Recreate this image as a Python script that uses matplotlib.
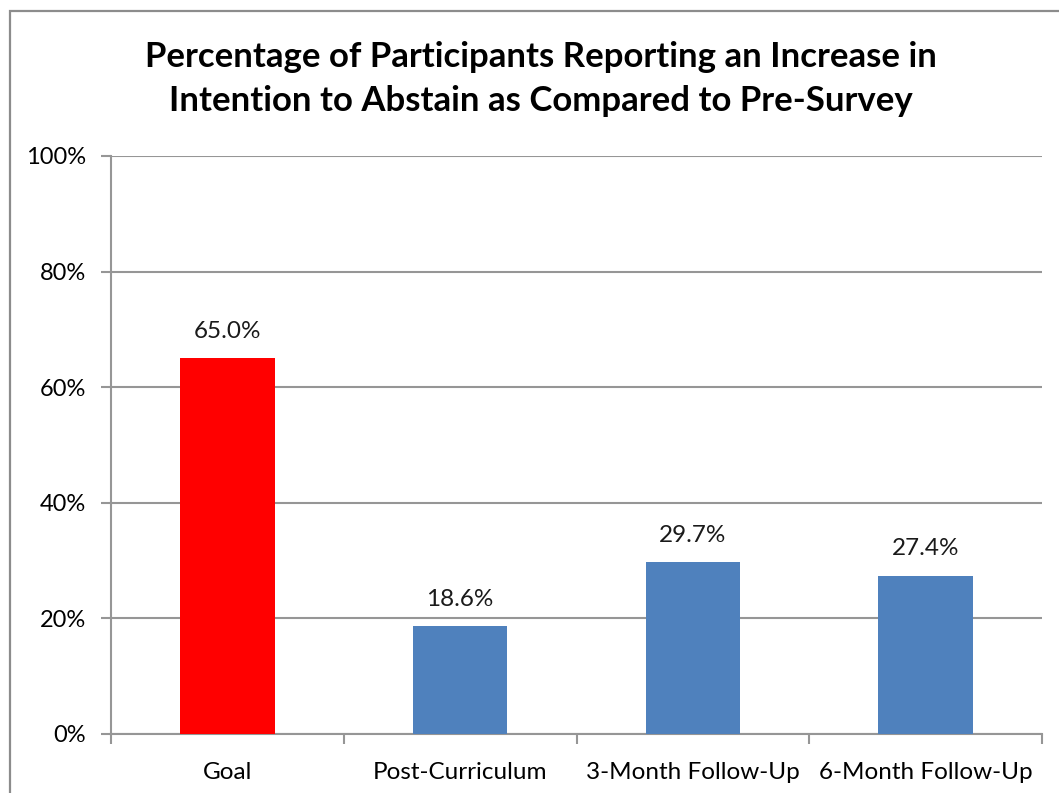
import matplotlib.pyplot as plt
from matplotlib.patches import Rectangle
from matplotlib.ticker import FixedLocator, PercentFormatter

categories = ['Goal', 'Post-Curriculum', '3-Month Follow-Up', '6-Month Follow-Up']
values = [65.0, 18.6, 29.7, 27.4]
colors = ['#FF0000', '#4F81BD', '#4F81BD', '#4F81BD']
title = ('Percentage of Participants Reporting an Increase in\n'
         'Intention to Abstain as Compared to Pre-Survey')

plt.rcParams['font.family'] = ['Lato', 'DejaVu Sans']
grey = '#969696'

fig = plt.figure(figsize=(10.59, 7.93), dpi=100)

# outer chart border (partly cut off on right/bottom)
fig.patches.append(Rectangle((10 / 1059, -0.1), 1.2, 1 - 11 / 793 + 0.1,
                             transform=fig.transFigure, fill=False,
                             edgecolor='#8c8c8c', linewidth=1.6))

ax = fig.add_axes([111 / 1059, 1 - 734 / 793, 931 / 1059, 578 / 793])

x = range(len(categories))
ax.bar(x, values, width=0.405, color=colors, zorder=3)
for i, v in enumerate(values):
    ax.text(i, v + 4.7, f'{v:.1f}%', ha='center', va='center', fontsize=17.5, color='#1a1a1a')

ax.set_xlim(-0.5, len(categories) - 0.5)
ax.set_ylim(0, 100)
ax.set_yticks(range(0, 101, 20))
ax.yaxis.set_major_formatter(PercentFormatter(decimals=0))
ax.grid(axis='y', color=grey, linewidth=1.5, zorder=0)

ax.set_xticks(list(x))
ax.set_xticklabels(categories)
ax.xaxis.set_minor_locator(FixedLocator([i - 0.5 for i in range(len(categories) + 1)]))
ax.tick_params(axis='x', which='major', length=0, pad=20, labelsize=17.5)
ax.tick_params(axis='x', which='minor', length=7, width=1.5, color=grey)
ax.tick_params(axis='y', length=7, width=1.5, color=grey, pad=11, labelsize=17)

for s in ['top', 'right']:
    ax.spines[s].set_visible(False)
for s in ['left', 'bottom']:
    ax.spines[s].set_color(grey)
    ax.spines[s].set_linewidth(1.5)

fig.text(541 / 1059, 1 - 79 / 793, title, ha='center', va='center',
         fontsize=25, fontweight='bold', linespacing=1.47)

fig.savefig('out.png', dpi=100)
